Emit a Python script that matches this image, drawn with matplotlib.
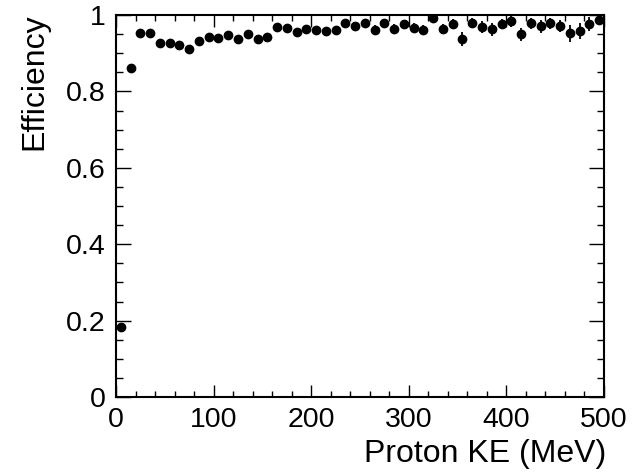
import matplotlib
matplotlib.use("Agg")
import matplotlib.pyplot as plt
from matplotlib.ticker import MultipleLocator

plt.rcParams['font.family'] = ['Liberation Sans', 'DejaVu Sans']

ke_centers = [5, 15, 25, 35, 45, 55, 65, 75, 85, 95,
              105, 115, 125, 135, 145, 155, 165, 175, 185, 195,
              205, 215, 225, 235, 245, 255, 265, 275, 285, 295,
              305, 315, 325, 335, 345, 355, 365, 375, 385, 395,
              405, 415, 425, 435, 445, 455, 465, 475, 485, 495]
efficiency = [0.182, 0.862, 0.952, 0.952, 0.927, 0.927, 0.921, 0.912, 0.933, 0.942,
              0.940, 0.948, 0.938, 0.949, 0.936, 0.942, 0.968, 0.967, 0.955, 0.964,
              0.961, 0.957, 0.960, 0.978, 0.970, 0.978, 0.962, 0.978, 0.964, 0.976,
              0.965, 0.961, 0.992, 0.963, 0.976, 0.938, 0.978, 0.969, 0.963, 0.977,
              0.983, 0.949, 0.978, 0.970, 0.978, 0.972, 0.952, 0.959, 0.976, 0.987]
eff_err = [0.005, 0.006, 0.004, 0.004, 0.005, 0.005, 0.005, 0.006, 0.006, 0.006,
           0.006, 0.006, 0.007, 0.007, 0.007, 0.007, 0.007, 0.008, 0.008, 0.008,
           0.008, 0.009, 0.009, 0.010, 0.011, 0.011, 0.013, 0.011, 0.013, 0.012,
           0.013, 0.014, 0.010, 0.013, 0.013, 0.018, 0.013, 0.015, 0.017, 0.013,
           0.014, 0.018, 0.014, 0.017, 0.014, 0.016, 0.023, 0.021, 0.018, 0.012]

x_ticks = [0, 100, 200, 300, 400, 500]
y_ticks = [0, 0.2, 0.4, 0.6, 0.8, 1]
y_tick_labels = ["0", "0.2", "0.4", "0.6", "0.8", "1"]

fig = plt.figure(figsize=(6.32, 4.74), dpi=100)
ax = fig.add_axes([116/632, 1-397/474, (604-116)/632, (397-15)/474])

ax.errorbar(ke_centers, efficiency, yerr=eff_err, fmt='o', color='black',
            markersize=6, elinewidth=1.3, capsize=0)

ax.set_xlim(0, 500)
ax.set_ylim(0, 1)
ax.set_xticks(x_ticks)
ax.set_xticklabels([str(t) for t in x_ticks])
ax.set_yticks(y_ticks)
ax.set_yticklabels(y_tick_labels)
ax.xaxis.set_minor_locator(MultipleLocator(20))
ax.yaxis.set_minor_locator(MultipleLocator(0.05))

ax.tick_params(axis='x', which='major', direction='in', length=8.5, width=1.0,
               top=True, bottom=True, labelsize=20.5, pad=7)
ax.tick_params(axis='x', which='minor', direction='in', length=4.3, width=1.0,
               top=True, bottom=True)
ax.tick_params(axis='y', which='major', direction='in', length=10.5, width=1.0,
               left=True, right=True, labelsize=20.5, pad=7.5)
ax.tick_params(axis='y', which='minor', direction='in', length=5.3, width=1.0,
               left=True, right=True)
for s in ax.spines.values():
    s.set_linewidth(1.5)

ax.set_xlabel("Proton KE (MeV)", fontsize=23, ha='right', va='baseline')
ax.xaxis.set_label_coords(1.0055, (397 - 462) / 382)
ax.set_ylabel("Efficiency", fontsize=23, ha='right', va='baseline')
ax.yaxis.set_label_coords((42.7 - 116) / 488, (397 - 13.3) / 382)

fig.savefig("out.png", dpi=100)
